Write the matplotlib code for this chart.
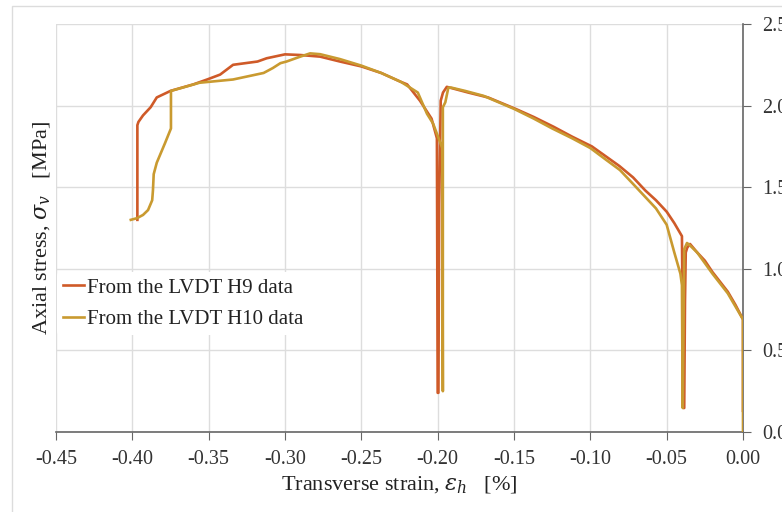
import numpy as np
import matplotlib.pyplot as plt
from matplotlib.patches import Rectangle

plt.rcParams['font.family'] = ['Liberation Serif', 'DejaVu Serif']
plt.rcParams['mathtext.fontset'] = 'dejavuserif'

# H9 trace, transverse strain [%] and axial stress [MPa]
h9_x = [0.0, 0.0, -0.005, -0.010, -0.020, -0.025, -0.030, -0.0347, -0.0365, -0.0375, -0.038, -0.0385,
        -0.039, -0.040, -0.045, -0.050, -0.057, -0.064, -0.072, -0.081, -0.090, -0.099, -0.112,
        -0.124, -0.137, -0.149, -0.167, -0.180, -0.192, -0.194, -0.1965, -0.198, -0.199, -0.1995,
        -0.200, -0.2005, -0.204, -0.2116, -0.220, -0.224, -0.237, -0.250, -0.264, -0.277, -0.290,
        -0.300, -0.312, -0.318, -0.334, -0.3425, -0.351, -0.360, -0.375, -0.384, -0.388, -0.393,
        -0.396, -0.3967, -0.3967]
h9_y = [0.13, 0.69, 0.78, 0.86, 0.98, 1.05, 1.10, 1.152, 1.13, 1.10, 0.80, 0.147,
        0.147, 1.20, 1.28, 1.35, 1.42, 1.48, 1.56, 1.63, 1.69, 1.75, 1.81,
        1.87, 1.93, 1.98, 2.05, 2.08, 2.11, 2.115, 2.08, 2.03, 1.40, 0.24,
        0.24, 1.80, 1.92, 2.03, 2.13, 2.145, 2.20, 2.24, 2.27, 2.30, 2.31,
        2.314, 2.29, 2.27, 2.25, 2.19, 2.16, 2.13, 2.09, 2.05, 1.99, 1.94,
        1.90, 1.88, 1.30]

# H10 trace
h10_x = [0.0, 0.0, -0.005, -0.010, -0.020, -0.030, -0.0355, -0.0367, -0.0385, -0.039, -0.0395,
         -0.040, -0.041, -0.045, -0.050, -0.057, -0.064, -0.072, -0.0806, -0.090, -0.100, -0.112,
         -0.125, -0.137, -0.150, -0.170, -0.182, -0.191, -0.193, -0.195, -0.1966, -0.1966, -0.197,
         -0.203, -0.207, -0.213, -0.224, -0.237, -0.250, -0.264, -0.277, -0.2836, -0.290, -0.299,
         -0.303, -0.308, -0.314, -0.334, -0.356, -0.3747, -0.3747, -0.3786, -0.384, -0.386,
         -0.3865, -0.387, -0.3897, -0.393, -0.397, -0.401]
h10_y = [0.0, 0.69, 0.77, 0.85, 0.97, 1.10, 1.15, 1.158, 1.12, 0.60, 0.147,
         0.90, 0.97, 1.10, 1.27, 1.37, 1.44, 1.52, 1.605, 1.67, 1.74, 1.80,
         1.86, 1.92, 1.98, 2.06, 2.09, 2.11, 2.11, 2.02, 1.99, 0.25, 1.74,
         1.89, 1.95, 2.08, 2.145, 2.20, 2.245, 2.285, 2.315, 2.32, 2.30, 2.27,
         2.26, 2.23, 2.20, 2.16, 2.14, 2.09, 1.86, 1.77, 1.65, 1.58,
         1.48, 1.42, 1.36, 1.33, 1.31, 1.30]

x_ticks = [-0.45, -0.40, -0.35, -0.30, -0.25, -0.20, -0.15, -0.10, -0.05, 0.00]
y_ticks = [0.0, 0.5, 1.0, 1.5, 2.0, 2.5]

fig = plt.figure(figsize=(7.82, 5.12), dpi=100)
ax = fig.add_axes([56/782, 80/512, 687/782, 408/512])

ax.plot(h9_x, h9_y, color='#cf5a28', lw=1.9, label='From the LVDT H9 data', zorder=3)
ax.plot(h10_x, h10_y, color='#c99a30', lw=1.9, label='From the LVDT H10 data', zorder=4)

ax.set_xlim(-0.45, 0.0)
ax.set_ylim(0, 2.5)
ax.set_xticks(x_ticks)
ax.set_xticklabels([f'{v:.2f}' for v in x_ticks])
ax.set_yticks(y_ticks)
ax.set_yticklabels([f'{v:.1f}' for v in y_ticks])
ax.yaxis.tick_right()
ax.grid(True, color='#dddddd', lw=1)
ax.set_axisbelow(True)

for s in ['left', 'top']:
    ax.spines[s].set_visible(False)
for s in ['right', 'bottom']:
    ax.spines[s].set_color('#666666')
    ax.spines[s].set_linewidth(1.2)
ax.tick_params(axis='both', direction='out', length=6, color='#666666', labelsize=14.5,
               labelcolor='#333333')
ax.tick_params(axis='x', pad=7)
ax.tick_params(axis='y', pad=8)

ax.set_xlabel(r'Transverse strain, $\varepsilon_h$   [%]', fontsize=16, color='#222222', labelpad=4)
fig.text(42/782, (512-228)/512, r'Axial stress, $\sigma_v$   [MPa]', rotation=90, fontsize=16,
         color='#222222', ha='center', va='center')

leg = ax.legend(loc='center left', bbox_to_anchor=(0.0, 0.315), frameon=True, fontsize=15,
                handlelength=1.0, handletextpad=0.12, borderpad=0.3, labelspacing=0.55,
                borderaxespad=0.05)
leg.get_frame().set_facecolor('white')
leg.get_frame().set_edgecolor('none')
leg.get_frame().set_alpha(1)
for t in leg.get_texts():
    t.set_color('#222222')

fig.patches.append(Rectangle((12/782, -0.1), 1.0, 1.1 - 6/512, transform=fig.transFigure,
                             fill=False, edgecolor='#dcdcdc', lw=1))

fig.savefig('out.png', dpi=100)
